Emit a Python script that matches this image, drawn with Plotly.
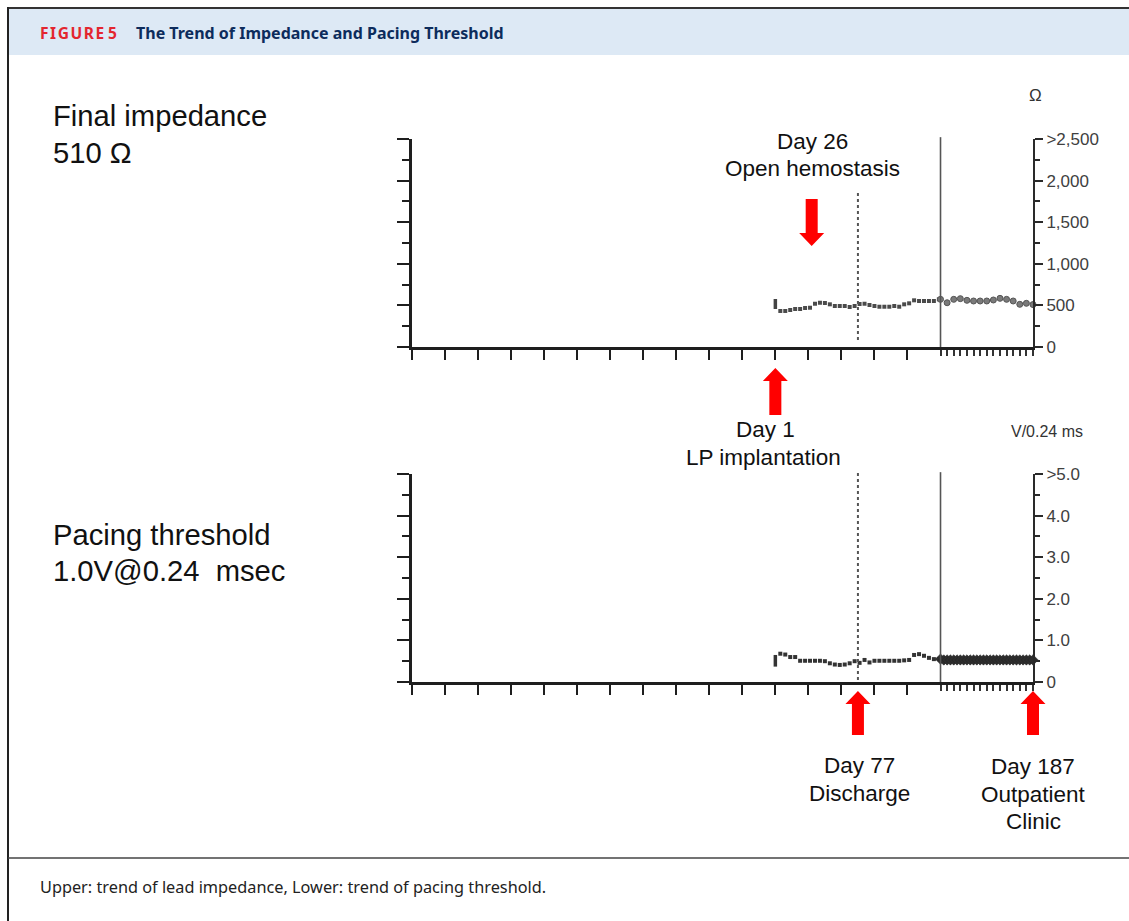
import plotly.graph_objects as go

W, H = 1129, 921

# ---------------- data ----------------
# time axis: monthly slots 0..16, then a short daily segment after the last visit
MONTH_TICKS = list(range(0, 16))
DAILY_TICKS = [16.0, 16.2, 16.4, 16.6, 16.8, 17.0, 17.2, 17.4, 17.6, 17.8,
               18.0, 18.2, 18.4, 18.6, 18.8]
X_END = 18.8

# event positions on the time axis
DAY1_X = 11.0
DAY26_X = 12.1
DAY77_X = 13.5
DAY187_X = 18.8
SEGMENT_SPLIT_X = 16.0

# weekly trend points after implantation
weekly_x = [11.15, 11.30, 11.45, 11.60, 11.75, 11.90, 12.05, 12.20, 12.35, 12.50,
            12.65, 12.80, 12.95, 13.10, 13.25, 13.40, 13.55, 13.70, 13.85, 14.00,
            14.15, 14.30, 14.45, 14.60, 14.75, 14.90, 15.05, 15.20, 15.35, 15.50,
            15.65, 15.80, 15.95]

# lead impedance (ohm)
impedance_day1_range = [457, 577]
impedance_weekly = [433, 433, 445, 457, 457, 469, 472, 520, 532, 529,
                    513, 493, 493, 493, 481, 493, 517, 520, 505, 493,
                    484, 484, 484, 493, 484, 513, 525, 561, 553, 553,
                    553, 553, 573]
impedance_daily_x = [16.0, 16.2, 16.4, 16.6, 16.8, 17.0, 17.2, 17.4, 17.6, 17.8,
                     18.0, 18.2, 18.4, 18.6, 18.8]
impedance_daily = [573, 532, 573, 581, 561, 553, 553, 553, 565, 585,
                   573, 553, 513, 525, 510]

# pacing threshold (V @ 0.24 ms)
threshold_day1_range = [0.37, 0.65]
threshold_weekly = [0.68, 0.66, 0.60, 0.60, 0.51, 0.51, 0.51, 0.51, 0.51, 0.50,
                    0.45, 0.42, 0.41, 0.42, 0.45, 0.50, 0.46, 0.53, 0.47, 0.51,
                    0.51, 0.51, 0.51, 0.51, 0.51, 0.52, 0.53, 0.65, 0.67, 0.63,
                    0.58, 0.55, 0.55]
threshold_daily_x = [16.0, 16.1, 16.2, 16.3, 16.4, 16.5, 16.6, 16.7, 16.8, 16.9,
                     17.0, 17.1, 17.2, 17.3, 17.4, 17.5, 17.6, 17.7, 17.8, 17.9,
                     18.0, 18.1, 18.2, 18.3, 18.4, 18.5, 18.6, 18.7, 18.8]
threshold_daily = [0.55, 0.53, 0.53, 0.53, 0.53, 0.53, 0.53, 0.53, 0.53, 0.53,
                   0.53, 0.53, 0.53, 0.53, 0.53, 0.53, 0.53, 0.53, 0.53, 0.53,
                   0.53, 0.53, 0.53, 0.53, 0.53, 0.53, 0.53, 0.53, 0.53]

# axis labels
imp_tickvals = [0, 500, 1000, 1500, 2000, 2500]
imp_ticktext = ["0", "500", "1,000", "1,500", "2,000", ">2,500"]
imp_minor = [250, 750, 1250, 1750, 2250]
thr_tickvals = [0, 1, 2, 3, 4, 5]
thr_ticktext = ["0", "1.0", "2.0", "3.0", "4.0", ">5.0"]
thr_minor = [0.5, 1.5, 2.5, 3.5, 4.5]


# ---------------- helpers ----------------
def px_x(p):
    return p / W


def px_y(p):
    return 1 - p / H


AX = "#1e1e1e"
GRAY = "#555555"
RED = "#ff0000"
ARIAL = "Liberation Sans, Arial, sans-serif"

X_DOMAIN = [px_x(412), px_x(1033)]
UP_DOMAIN = [px_y(347), px_y(139)]
LO_DOMAIN = [px_y(682), px_y(474)]


def time_to_paper(x):
    """Position on the shared time axis, as a paper fraction."""
    return X_DOMAIN[0] + (x / X_END) * (X_DOMAIN[1] - X_DOMAIN[0])


fig = go.Figure()

# ---------------- upper panel: impedance ----------------
fig.add_trace(go.Scatter(
    x=[DAY1_X, DAY1_X], y=impedance_day1_range, mode="lines",
    line=dict(color="#444", width=3.5), xaxis="x", yaxis="y", showlegend=False))
fig.add_trace(go.Scatter(
    x=weekly_x, y=impedance_weekly, mode="markers",
    marker=dict(symbol="square", size=4, color="#4a4a4a"),
    xaxis="x", yaxis="y", showlegend=False))
fig.add_trace(go.Scatter(
    x=impedance_daily_x, y=impedance_daily, mode="markers",
    marker=dict(symbol="circle", size=6, color="#7a7a7a",
                line=dict(color="#555", width=1)),
    xaxis="x", yaxis="y2", showlegend=False, cliponaxis=False))

# ---------------- lower panel: pacing threshold ----------------
fig.add_trace(go.Scatter(
    x=[DAY1_X, DAY1_X], y=threshold_day1_range, mode="lines",
    line=dict(color="#333", width=3.5), xaxis="x2", yaxis="y3", showlegend=False))
fig.add_trace(go.Scatter(
    x=weekly_x, y=threshold_weekly, mode="markers",
    marker=dict(symbol="square", size=4, color="#333"),
    xaxis="x2", yaxis="y3", showlegend=False))
fig.add_trace(go.Scatter(
    x=threshold_daily_x, y=threshold_daily, mode="markers",
    marker=dict(symbol="diamond", size=8, color="#2d2d2d",
                line=dict(color="#222", width=0.5)),
    xaxis="x2", yaxis="y4", showlegend=False, cliponaxis=False))


def x_axis(anchor):
    return dict(
        domain=X_DOMAIN, range=[0, X_END], anchor=anchor, automargin=False,
        showline=True, linecolor=AX, linewidth=2.5, mirror=False,
        showgrid=False, zeroline=False, showticklabels=False,
        ticks="outside", tickmode="array", tickvals=MONTH_TICKS,
        ticklen=10, tickwidth=2, tickcolor=AX,
        minor=dict(tickmode="array", tickvals=DAILY_TICKS, ticks="outside",
                   ticklen=6, tickwidth=1.6, tickcolor="#333", showgrid=False),
        fixedrange=True)


def y_left(domain, rng, vals, minor, anchor):
    return dict(
        domain=domain, range=rng, anchor=anchor, side="left", automargin=False,
        showline=True, linecolor=AX, linewidth=2.5,
        showgrid=False, zeroline=False, showticklabels=False,
        ticks="outside", tickmode="array", tickvals=vals,
        ticklen=12, tickwidth=2, tickcolor=AX,
        minor=dict(tickmode="array", tickvals=minor, ticks="outside",
                   ticklen=7, tickwidth=2, tickcolor=AX, showgrid=False))


def y_right(over, rng, vals, text, minor, anchor):
    return dict(
        overlaying=over, range=rng, anchor=anchor, side="right", automargin=False,
        showline=True, linecolor="#2a2a2a", linewidth=2,
        showgrid=False, zeroline=False,
        ticks="outside", tickmode="array", tickvals=vals, ticktext=text,
        ticklen=8, tickwidth=1.6, tickcolor="#2a2a2a",
        tickfont=dict(family=ARIAL, size=17, color="#404040"),
        minor=dict(tickmode="array", tickvals=minor, ticks="outside",
                   ticklen=5, tickwidth=1.6, tickcolor="#2a2a2a", showgrid=False))


layout_axes = dict(
    xaxis=x_axis("y"),
    xaxis2=x_axis("y3"),
    yaxis=y_left(UP_DOMAIN, [0, 2500], imp_tickvals, imp_minor, "x"),
    yaxis2=y_right("y", [0, 2500], imp_tickvals, imp_ticktext, imp_minor, "x"),
    yaxis3=y_left(LO_DOMAIN, [0, 5], thr_tickvals, thr_minor, "x2"),
    yaxis4=y_right("y3", [0, 5], thr_tickvals, thr_ticktext, thr_minor, "x2"),
)

shapes = []

# figure frame, header band and caption rule
shapes.append(dict(type="rect", xref="paper", yref="paper",
                   x0=px_x(9), x1=1.0, y0=px_y(55), y1=px_y(9),
                   fillcolor="#dde9f5", line=dict(width=0), layer="below"))
shapes.append(dict(type="line", xref="paper", yref="paper",
                   x0=px_x(7), x1=1.0, y0=px_y(8), y1=px_y(8),
                   line=dict(color="#333", width=2.2)))
shapes.append(dict(type="line", xref="paper", yref="paper",
                   x0=px_x(8), x1=px_x(8), y0=0, y1=px_y(7),
                   line=dict(color="#222", width=2)))
shapes.append(dict(type="line", xref="paper", yref="paper",
                   x0=px_x(8), x1=1.0, y0=px_y(858), y1=px_y(858),
                   line=dict(color="#444", width=1.5)))

# segment split (solid) and discharge (dotted) markers in both panels
for xr, dom in (("x", UP_DOMAIN), ("x2", LO_DOMAIN)):
    shapes.append(dict(type="line", xref=xr, yref="paper",
                       x0=SEGMENT_SPLIT_X, x1=SEGMENT_SPLIT_X,
                       y0=dom[0], y1=dom[1] + 0.002,
                       line=dict(color=GRAY, width=1.6)))
shapes.append(dict(type="line", xref="x", yref="paper",
                   x0=DAY77_X, x1=DAY77_X, y0=px_y(340), y1=px_y(190),
                   line=dict(color=GRAY, width=2, dash="dot")))
shapes.append(dict(type="line", xref="x2", yref="paper",
                   x0=DAY77_X, x1=DAY77_X, y0=px_y(680), y1=px_y(470),
                   line=dict(color=GRAY, width=2, dash="dot")))


def block_arrow(xc, tip_px, tail_px):
    """Solid block arrow centred on time xc; the tip points toward tip_px."""
    cx = time_to_paper(xc)
    hw = 12.5 / W   # head half width
    sw = 6.0 / W    # shaft half width
    sign = 1 if tail_px > tip_px else -1
    neck = tip_px + sign * 13
    pts = [(cx, tip_px), (cx + hw, neck), (cx + sw, neck), (cx + sw, tail_px),
           (cx - sw, tail_px), (cx - sw, neck), (cx - hw, neck)]
    path = "M " + " L ".join(f"{x:.5f},{px_y(y):.5f}" for x, y in pts) + " Z"
    return dict(type="path", xref="paper", yref="paper", path=path,
                fillcolor=RED, line=dict(width=0))


shapes.append(block_arrow(DAY26_X, 246, 199))
shapes.append(block_arrow(DAY1_X, 368, 415))
shapes.append(block_arrow(DAY77_X, 691, 735))
shapes.append(block_arrow(DAY187_X, 691, 735))

# ---------------- text ----------------
annotations = []


def text(s, x_px, y_px, size, color="#111", family=ARIAL, xanchor="left", bold=False):
    annotations.append(dict(
        text=f"<b>{s}</b>" if bold else s, xref="paper", yref="paper",
        x=px_x(x_px), y=px_y(y_px), xanchor=xanchor, yanchor="middle",
        showarrow=False, font=dict(family=family, size=size, color=color)))


HEAD_FONT = "Noto Sans, sans-serif"
HS = "\u200a"
text(HS.join("FIGURE") + " 5", 38, 33, 15.5, color="#e3262f", family=HEAD_FONT, bold=True)
text("The Trend of Impedance and Pacing Threshold", 134, 33, 16,
     color="#0d2c5c", family=HEAD_FONT, bold=True)

text("Final impedance", 51, 116, 29.2)
text("510 Ω", 51, 153, 29.2)
text("Pacing threshold", 51, 535, 29.2)
text("1.0V@0.24  msec", 51, 571, 29.2)

text("Day 26", 812, 141, 22.5, xanchor="center")
text("Open hemostasis", 812, 169, 22.5, xanchor="center")
text("Day 1", 765, 429, 22.5, xanchor="center")
text("LP implantation", 763, 457, 22.5, xanchor="center")
text("Day 77", 859, 765, 22.5, xanchor="center")
text("Discharge", 859, 793, 22.5, xanchor="center")
text("Day 187", 1033, 766, 22.5, xanchor="center")
text("Outpatient", 1033, 794, 22.5, xanchor="center")
text("Clinic", 1033, 821, 22.5, xanchor="center")

text("Ω", 1035, 95, 17, color="#333", xanchor="center")
text("V/0.24 ms", 1047, 431, 16, color="#333", xanchor="center")

text("Upper: trend of lead impedance, Lower: trend of pacing threshold.",
     38, 887, 16.3, color="#222", family=HEAD_FONT)

fig.update_layout(
    width=W, height=H, margin=dict(l=0, r=0, t=0, b=0, autoexpand=False),
    paper_bgcolor="white", plot_bgcolor="rgba(0,0,0,0)",
    showlegend=False, shapes=shapes, annotations=annotations,
    **layout_axes)

fig.write_html("out.html")
